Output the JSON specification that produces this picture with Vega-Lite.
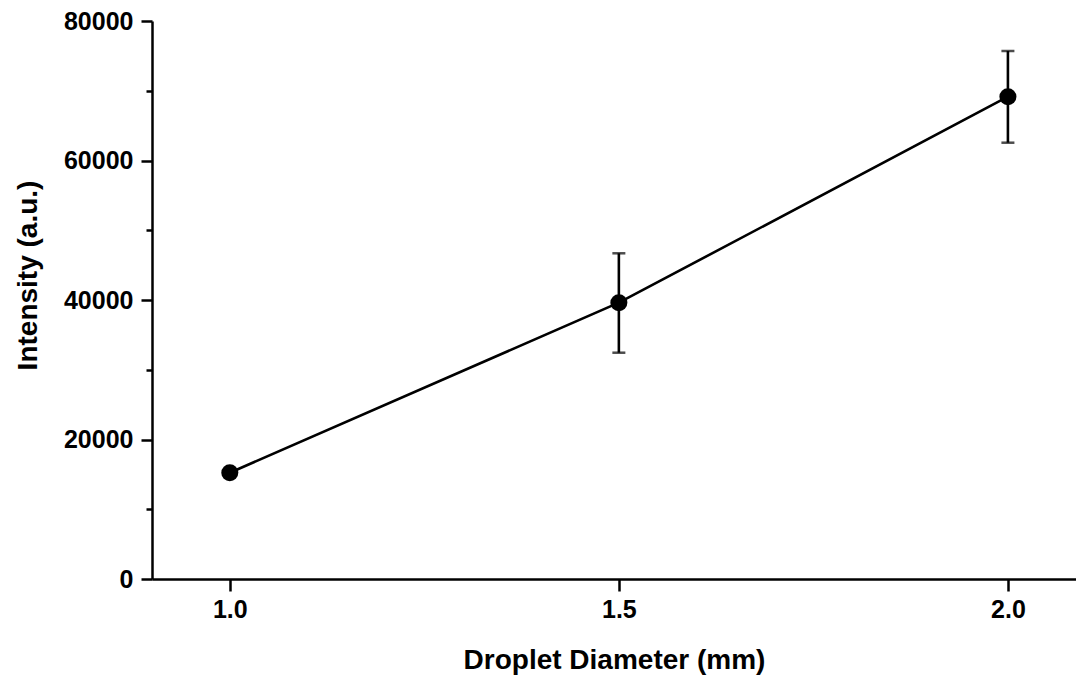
{
  "$schema": "https://vega.github.io/schema/vega-lite/v6.json",
  "width": 924,
  "height": 558,
  "autosize": {"type": "none"},
  "padding": {"left": 152, "top": 21, "right": 0, "bottom": 99},
  "background": "white",
  "config": {
    "view": {"stroke": null},
    "font": "Liberation Sans",
    "axis": {
      "labelFont": "Liberation Sans",
      "labelFontWeight": "bold",
      "labelFontSize": 25,
      "labelColor": "black",
      "titleFont": "Liberation Sans",
      "titleFontWeight": "bold",
      "titleColor": "black",
      "domainColor": "black",
      "domainWidth": 2.5,
      "tickColor": "black",
      "tickWidth": 2.5,
      "grid": false
    }
  },
  "data": {
    "values": [
      {"d": 1.0, "intensity": 15240, "lo": null, "hi": null},
      {"d": 1.5, "intensity": 39613, "lo": 32444, "hi": 46696},
      {"d": 2.0, "intensity": 69147, "lo": 62552, "hi": 75699}
    ]
  },
  "encoding": {
    "x": {
      "field": "d",
      "type": "quantitative",
      "scale": {"domain": [0.9, 2.0875], "nice": false, "zero": false},
      "axis": {
        "title": "Droplet Diameter (mm)",
        "titleFontSize": 28,
        "titlePadding": 24,
        "values": [1.0, 1.5, 2.0],
        "format": ".1f",
        "tickSize": 12,
        "labelPadding": 6
      }
    }
  },
  "layer": [
    {
      "mark": {"type": "line", "color": "black", "strokeWidth": 2.6},
      "encoding": {
        "y": {
          "field": "intensity",
          "type": "quantitative",
          "title": "Intensity (a.u.)",
          "scale": {"domain": [0, 80000], "nice": false},
          "axis": {
            "titleFontSize": 28,
            "titleX": -124,
            "titleY": 254,
            "titleAngle": -90,
            "titleAlign": "center",
            "titleBaseline": "middle",
            "values": [0, 10000, 20000, 30000, 40000, 50000, 60000, 70000, 80000],
            "labelExpr": "datum.value % 20000 === 0 ? datum.value : ''",
            "tickSize": {"condition": {"test": "datum.value % 20000 === 0", "value": 11}, "value": 6},
            "labelPadding": 8
          }
        }
      }
    },
    {
      "transform": [{"filter": "isValid(datum.lo)"}],
      "mark": {
        "type": "errorbar",
        "ticks": {"size": 13, "thickness": 2.5, "color": "black"},
        "rule": {"strokeWidth": 2.6, "color": "black"}
      },
      "encoding": {
        "y": {"field": "lo", "type": "quantitative", "title": "Intensity (a.u.)"},
        "y2": {"field": "hi"}
      }
    },
    {
      "mark": {"type": "circle", "color": "black", "opacity": 1, "size": 290},
      "encoding": {
        "y": {"field": "intensity", "type": "quantitative", "title": "Intensity (a.u.)"}
      }
    }
  ]
}
